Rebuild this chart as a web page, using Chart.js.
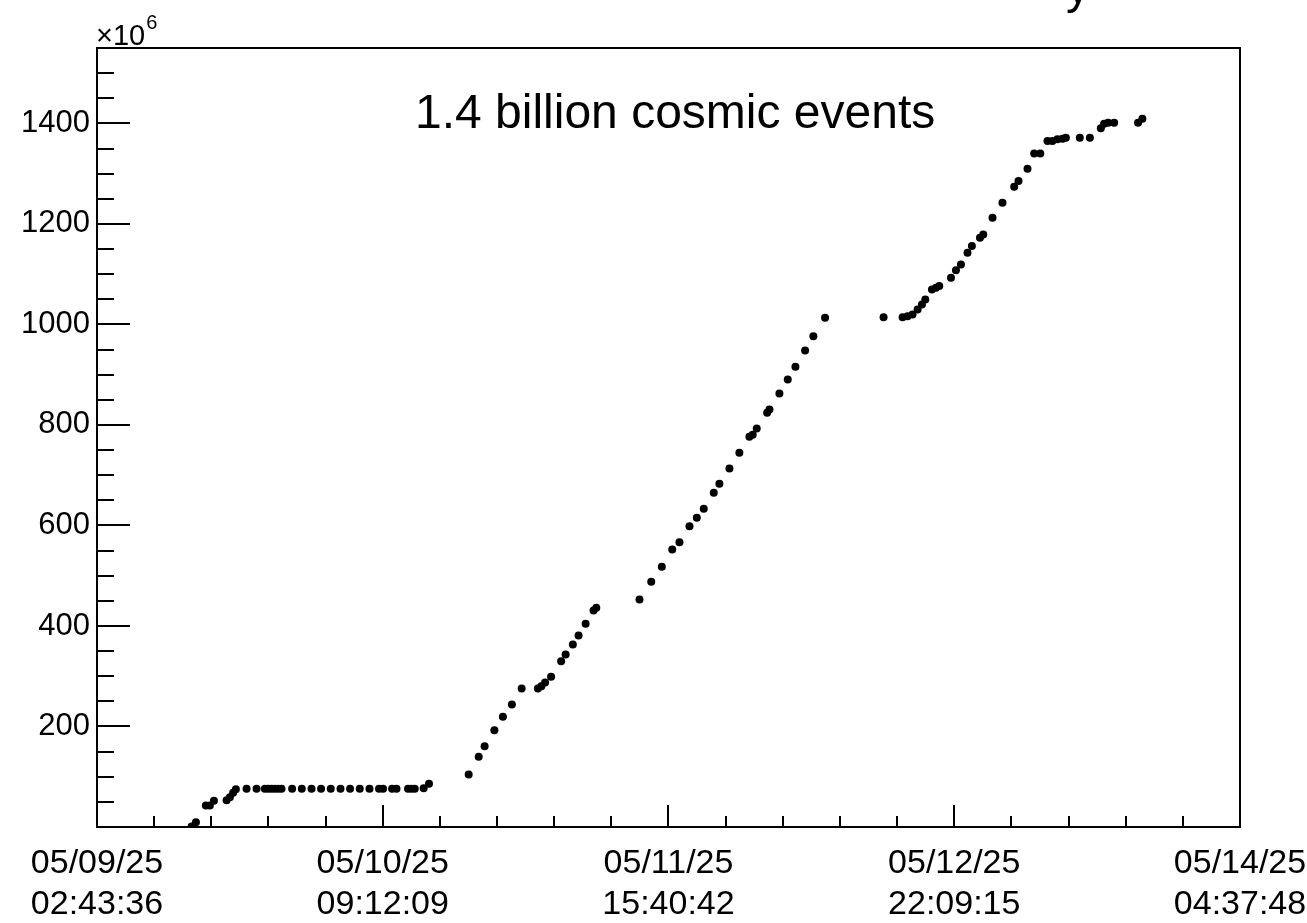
<!DOCTYPE html>
<html><head><meta charset="utf-8">
<script src="https://cdn.jsdelivr.net/npm/chart.js@4/dist/chart.umd.min.js"></script>
<style>html,body{margin:0;padding:0;background:#fff;overflow:hidden}#wrap{width:1307px;height:923px;position:relative}</style>
</head><body><div id="wrap"><canvas id="c" width="1307" height="923"></canvas></div>
<script>
// hours elapsed since 05/09/25 02:43:36
const hoursSinceStart = [
  10.09, 10.55, 11.61, 12.04, 12.47, 13.82, 14.17, 14.52, 14.81,
  15.95, 17.02, 17.90, 18.25, 18.62, 18.97, 19.32, 19.68, 20.81, 21.84, 22.88, 23.90, 24.93, 25.97, 26.99, 28.02, 29.06, 30.08, 30.51, 31.47, 31.94, 33.17, 33.53, 33.89, 34.84, 35.41,
  39.64, 40.71, 41.34, 42.38, 43.29, 44.25, 45.29, 47.02, 47.39, 47.79, 48.43, 49.50, 49.98, 50.75, 51.36, 52.11, 52.96, 53.25,
  57.86, 59.11, 60.24, 61.35, 62.12, 63.19, 63.97, 64.71, 65.78, 66.38, 67.45, 68.51, 69.58, 69.93, 70.36, 71.47, 71.72, 72.78, 73.67, 74.49, 75.52, 76.40, 77.65,
  83.89, 85.92, 86.45, 86.98, 87.52, 87.98, 88.34, 89.05, 89.48, 89.83, 91.08, 91.61, 92.14, 92.84, 93.31, 94.17, 94.52, 95.51, 96.57, 97.82, 98.28, 99.24, 99.95, 100.60, 101.37, 101.90, 102.43, 102.97, 103.33, 104.82, 105.89, 107.06, 107.41, 107.84, 108.48, 111.03, 111.49
];
// cumulative events (x10^6)
const eventsMillions = [
  1, 9.5, 43, 43, 52, 53, 59, 68, 75,
  76, 76, 76, 76, 76, 76, 76, 76, 76, 76, 76, 76, 76, 76, 76, 76, 76, 76, 76, 76, 76, 76, 76, 76, 77, 86,
  104.5, 139.7, 160.8, 192.6, 219.3, 243.8, 275.6, 275.6, 280.2, 287.6, 299, 330, 343.3, 363.2, 381, 404.4, 430.8, 436.2,
  452.7, 488, 517.8, 552.2, 566.8, 598.6, 615.3, 633.2, 665, 683, 713.4, 744.7, 776.5, 780.5, 793, 824.3, 830.8, 862.7, 890.5, 915.8, 948.3, 976.7, 1013.3,
  1014.5, 1014.5, 1016.5, 1019.9, 1029.9, 1039.8, 1049.8, 1069.7, 1073, 1076.2, 1092.9, 1108, 1119.4, 1142.7, 1155.8, 1172.5, 1179.1, 1212.3, 1242.2, 1274, 1285.2, 1309.9, 1340.3, 1340.3, 1364.8, 1364.8, 1368.2, 1369.6, 1371.6, 1371.6, 1371.6, 1390.1, 1399.4, 1401.4, 1401.4, 1401.4, 1409.3
];
const xTickHours = [0, 30.4758, 60.9517, 91.4275, 121.9033];
const xTickDates = ['05/09/25', '05/10/25', '05/11/25', '05/12/25', '05/14/25'];
const xTickTimes = ['02:43:36', '09:12:09', '15:40:42', '22:09:15', '04:37:48'];
const yTickValues = [200, 400, 600, 800, 1000, 1200, 1400];
const yRange = [0, 1550];
const annotationText = '1.4 billion cosmic events';
const exponentBase = '\u00d710';
const exponentPower = '6';
const titleFragment = 'y';

const FONT = '"Liberation Sans", Arial, Helvetica, sans-serif';
const points = hoursSinceStart.map((h, i) => ({x: h, y: eventsMillions[i]}));

const framePlugin = {
  id: 'frame',
  afterDraw(chart) {
    const {ctx, chartArea: a, scales: {x, y}} = chart;
    ctx.save();
    ctx.strokeStyle = '#000';
    ctx.lineWidth = 2;
    ctx.strokeRect(a.left, a.top, a.right - a.left, a.bottom - a.top);
    ctx.beginPath();
    const xStep = (xTickHours[1] - xTickHours[0]) / 5;
    for (let i = 0; i <= 20; i++) {
      const px = Math.round(x.getPixelForValue(xTickHours[0] + i * xStep));
      const len = i % 5 === 0 ? 22 : 11;
      ctx.moveTo(px, a.bottom); ctx.lineTo(px, a.bottom - len);
    }
    for (let v = 0; v <= y.max; v += 50) {
      const py = Math.round(y.getPixelForValue(v));
      const len = v % 200 === 0 ? 33 : 17;
      ctx.moveTo(a.left, py); ctx.lineTo(a.left + len, py);
    }
    ctx.stroke();
    ctx.fillStyle = '#000';
    ctx.textBaseline = 'alphabetic';
    ctx.textAlign = 'left';
    ctx.font = '48px ' + FONT;
    ctx.fillText(annotationText, 415, 128);
    ctx.font = '29px ' + FONT;
    ctx.fillText(exponentBase, a.left - 1, 45);
    const w = ctx.measureText(exponentBase).width;
    ctx.font = '20px ' + FONT;
    ctx.fillText(exponentPower, a.left - 1 + w + 1, 29);
    ctx.font = '48px ' + FONT;
    ctx.fillText(titleFragment, 1066, 3);
    ctx.restore();
  }
};

new Chart(document.getElementById('c'), {
  type: 'scatter',
  data: {datasets: [{
    data: points,
    backgroundColor: '#000',
    borderColor: '#000',
    borderWidth: 0,
    pointRadius: 4,
    pointHoverRadius: 4,
    showLine: false
  }]},
  options: {
    responsive: false,
    animation: false,
    devicePixelRatio: 1,
    layout: {padding: {top: 48, right: 67, left: 0, bottom: 0}},
    plugins: {legend: {display: false}, tooltip: {enabled: false}, title: {display: false}},
    scales: {
      x: {
        type: 'linear',
        min: xTickHours[0],
        max: xTickHours[xTickHours.length - 1],
        grid: {display: false, drawTicks: false},
        border: {display: false},
        afterBuildTicks: s => { s.ticks = xTickHours.map(v => ({value: v})); },
        afterFit: s => { s.height = 96; s.paddingLeft = 0; s.paddingRight = 0; },
        ticks: {
          autoSkip: false, maxRotation: 0, minRotation: 0,
          padding: 16, color: '#000',
          font: {family: FONT, size: 34, lineHeight: 1.2},
          callback: (v, i) => [xTickDates[i], xTickTimes[i]]
        }
      },
      y: {
        type: 'linear',
        min: yRange[0], max: yRange[1],
        grid: {display: false, drawTicks: false},
        border: {display: false},
        afterBuildTicks: s => { s.ticks = yTickValues.map(v => ({value: v})); },
        afterFit: s => { s.width = 97; s.paddingTop = 0; s.paddingBottom = 0; },
        ticks: {
          padding: 7, color: '#000',
          font: {family: FONT, size: 31},
          callback: v => String(v)
        }
      }
    }
  },
  plugins: [framePlugin]
});
</script></body></html>
